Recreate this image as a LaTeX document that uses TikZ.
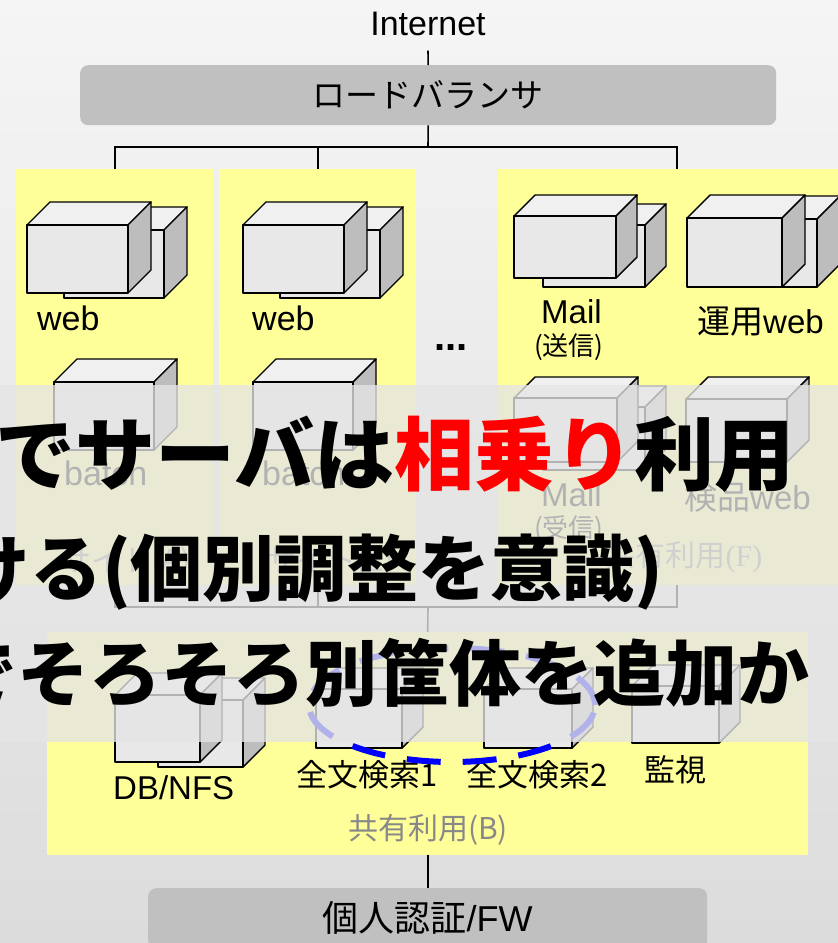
\documentclass[tikz,border=0pt]{standalone}
\usepackage{fontspec}
\setmainfont{Liberation Sans}
\newfontfamily\jp{Noto Sans CJK JP}
\newfontfamily\rmF{Liberation Serif}
\usetikzlibrary{positioning}

\definecolor{bgtop}{HTML}{F5F5F5}
\definecolor{bgbottom}{HTML}{DCDCDC}
\definecolor{panelyellow}{HTML}{FFFF99}
\definecolor{barbg}{HTML}{C0C0C0}
\definecolor{srvfront}{HTML}{E8E8E8}
\definecolor{srvtop}{HTML}{F0F0F0}
\definecolor{srvside}{HTML}{BDBDBD}
\definecolor{notegray}{HTML}{888888}
\definecolor{veil}{HTML}{E5E5E5}

% server cube: front top-left x, y, width, height, depth
\newcommand{\srvbox}[5]{%
  \filldraw[srvline, fill=srvtop] (#1,#2) -- ++(#5,-#5) -- ++(#3,0) -- ++(-#5,#5) -- cycle;
  \filldraw[srvline, fill=srvside] (#1+#3,#2) -- ++(#5,-#5) -- ++(0,#4) -- ++(-#5,#5) -- cycle;
  \filldraw[srvline, fill=srvfront] (#1,#2) rectangle ++(#3,#4);
}

\begin{document}
\begin{tikzpicture}[x=1pt, y=-1pt,
    panel/.style={fill=panelyellow, inner sep=0, anchor=north west},
    bar/.style={fill=barbg, rounded corners=8pt, inner sep=0, anchor=north west,
      font=\jp\fontsize{33}{36}\selectfont},
    wire/.style={line width=1.6pt},
    srvline/.style={line width=1.4pt, line join=round},
    tag/.style={inner sep=0, font=\fontsize{34}{38}\selectfont},
    jtag/.style={inner sep=0, font=\jp\fontsize{31}{34}\selectfont},
    small/.style={inner sep=0, font=\jp\fontsize{26}{30}\selectfont},
    note/.style={inner sep=0, text=notegray, font=\jp\fontsize{30}{34}\selectfont},
    big/.style={inner sep=0, anchor=base east, font=\jp\bfseries\fontsize{72}{76}\selectfont}
  ]
  \useasboundingbox (0,0) rectangle (838,943);
  \clip (0,0) rectangle (838,943);
  \shade[top color=bgtop, bottom color=bgbottom] (0,0) rectangle (838,943);

  % top and bottom bars
  \node (internet) [tag, anchor=base, inner ysep=15pt] at (428,35) {Internet};
  \node (lb) [bar, minimum width=696pt, minimum height=60pt] at (80,65) {ロードバランサ};
  \node (auth) [bar, minimum width=559pt, minimum height=60pt,
    font=\fontsize{36}{40}\selectfont] at (148,888) {{\jp 個人認証}/FW};

  % server groups
  \node (siteA) [panel, minimum width=197pt, minimum height=416pt] at (16,169) {};
  \node (siteB) [panel, minimum width=197pt, minimum height=416pt] at (219,169) {};
  \node (shareF) [panel, minimum width=358pt, minimum height=416pt] at (498,169) {};
  \node (shareB) [panel, minimum width=761pt, minimum height=223pt] at (47,632) {};

  \coordinate (bus1) at (428,147);
  \coordinate (bus2) at (428,607);

  % wiring
  \draw[wire] (internet.south) -- (lb.north);
  \draw[wire] (lb.south) -- (bus1);
  \draw[wire] (siteA.north) |- (bus1) -| (shareF.north);
  \draw[wire] (siteB.north) -- (siteB.north |- bus1);
  \draw[wire] (siteA.south) |- (bus2) -| (shareF.south);
  \draw[wire] (siteB.south) -- (siteB.south |- bus2);
  \draw[wire] (bus2) -- (shareB.north);
  \draw[wire] (shareB.south) -- (auth.north);

  % site A
  \srvbox{64}{230}{100}{68}{23}
  \srvbox{27}{225}{101}{68}{23}
  \srvbox{54}{382}{100}{68}{23}
  \node (webA) [tag, anchor=base west] at (37,330) {web};
  \node (batchA) [tag, anchor=base west] at (64,485) {batch};
  \node (labA) [note] at (126,562) {サイト(A)};

  % site B
  \srvbox{280}{230}{100}{68}{23}
  \srvbox{243}{225}{101}{68}{23}
  \srvbox{253}{382}{100}{68}{23}
  \node (webB) [tag, anchor=base west] at (252,330) {web};
  \node (batchB) [tag, anchor=base west] at (262,485) {batch};
  \node (labB) [note] at (330,562) {サイト(E)};

  \node (dots) [tag, anchor=base, font=\bfseries\fontsize{40}{40}\selectfont] at (451,350) {...};

  % shared front servers
  \srvbox{543}{225}{102}{62}{21}
  \srvbox{514}{216}{102}{62}{21}
  \srvbox{722}{219}{95}{68}{23}
  \srvbox{687}{218}{95}{69}{23}
  \srvbox{543}{407}{102}{63}{21}
  \srvbox{514}{398}{103}{64}{21}
  \srvbox{686}{399}{101}{63}{22}
  \node (mailS) [tag, anchor=base west, font=\fontsize{33}{36}\selectfont] at (541,323) {Mail};
  \node (mailSx) [small, anchor=west] at (534,347) {(送信)};
  \node (opsweb) [tag, anchor=west, font=\fontsize{33}{36}\selectfont] at (697,321) {{\jp 運用}web};
  \node (mailR) [tag, anchor=base west, font=\fontsize{33}{36}\selectfont] at (541,506) {Mail};
  \node (mailRx) [small, anchor=west] at (534,529) {(受信)};
  \node (chkweb) [tag, anchor=west, font=\fontsize{33}{36}\selectfont] at (684,497) {{\jp 検品}web};
  \node (labF) [note] at (684,557) {共有利用{\rmF(F)}};

  % shared back servers
  \srvbox{158}{700}{85}{67}{22}
  \srvbox{115}{695}{85}{67}{22}
  \srvbox{316}{689}{86}{59}{21}
  \srvbox{484}{689}{88}{59}{21}
  \srvbox{632}{686}{87}{57}{21}
  \node (db) [tag, anchor=base west, font=\fontsize{33}{36}\selectfont] at (113,799) {DB/NFS};
  \node (fts1) [jtag] at (367,775) {全文検索1};
  \node (fts2) [jtag] at (537,775) {全文検索2};
  \node (mon) [jtag] at (675,770) {監視};
  \node (labB2) [note] at (428,830) {共有利用(B)};

  \draw[blue, line width=6pt, dash pattern=on 34pt off 22pt]
    (452,705) ellipse [x radius=143pt, y radius=57pt];

  % veil with the message on top
  \fill[veil, fill opacity=0.78] (0,385) rectangle (838,742);
  \node (msg1) [big, font=\jp\bfseries\fontsize{80}{84}\selectfont] at (795,484)
    {でサーバは\textcolor{red}{相乗り}利用};
  \node (msg2) [big] at (664,595) {ける(個別調整を意識)};
  \node (msg3) [big] at (810,700) {でそろそろ別筐体を追加か};
\end{tikzpicture}
\end{document}
